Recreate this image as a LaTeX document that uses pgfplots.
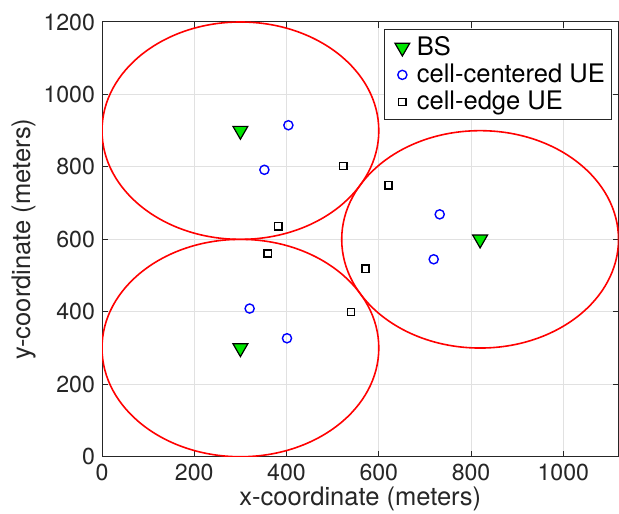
\documentclass[border={2.5pt -2pt 0pt 3.5pt}]{standalone}
\usepackage{pgfplots}
\pgfplotsset{compat=1.18}
\usepackage{fontspec}
\setmainfont{TeX Gyre Heros}
\definecolor{axgray}{RGB}{38,38,38}
\definecolor{gridgray}{RGB}{225,225,225}
\definecolor{bsgreen}{RGB}{0,230,0}
\begin{document}
\begin{tikzpicture}
\begin{axis}[
  scale only axis,
  width=259pt, height=218pt,
  xmin=0, xmax=1119.6, ymin=0, ymax=1200,
  xtick={0,200,...,1000}, ytick={0,200,...,1200},
  grid=major, major grid style={gridgray, line width=0.5pt},
  tick align=inside, major tick length=3pt,
  axis line style={axgray, line width=0.5pt},
  tick style={axgray, line width=0.5pt},
  ticklabel style={font=\fontsize{11.6}{13}\selectfont, text=axgray},
  /pgf/number format/assume math mode=true,
  /pgf/number format/1000 sep={},
  xlabel={x-coordinate (meters)}, ylabel={y-coordinate (meters)},
  label style={font=\fontsize{12.8}{14}\selectfont, text=axgray},
  xlabel style={yshift=3.5pt}, ylabel style={yshift=-3pt},
  legend style={at={(0.988,0.984)}, anchor=north east, draw=axgray, line width=0.5pt,
    font=\fontsize{12.8}{14}\selectfont, inner sep=1.5pt, row sep=-1.2pt,
    cells={anchor=west}},
  legend image code/.code={\path (0.3cm-7pt,0pt) (0.3cm+5pt,0pt);
    \draw[mark repeat=2,mark phase=2,#1] plot coordinates {(0cm,0cm) (0.3cm,0cm) (0.6cm,0cm)};},
  legend cell align=left,
  clip=true,
]
\draw[red, line width=0.8pt] (axis cs:300,900) ellipse [x radius=300, y radius=300];
\draw[red, line width=0.8pt] (axis cs:300,300) ellipse [x radius=300, y radius=300];
\draw[red, line width=0.8pt] (axis cs:819.6,600) ellipse [x radius=300, y radius=300];
\addplot[only marks, mark=triangle*, mark size=4.3pt, mark options={rotate=180, fill=bsgreen, draw=black, line width=0.6pt}]
  coordinates {(300,900) (300,300) (819.6,600)};
\addlegendentry{BS}
\addplot[only marks, mark=o, mark size=2.3pt, mark options={draw=blue, line width=0.7pt}]
  coordinates {(404,915) (352,792) (732,669) (719,545) (320,409) (401,327)};
\addlegendentry{cell-centered UE}
\addplot[only marks, mark=square, mark size=1.8pt, mark options={draw=black, line width=0.7pt}]
  coordinates {(523,802) (621,749) (382,636) (359,561) (571,519) (540,400)};
\addlegendentry{cell-edge UE}
\end{axis}
\end{tikzpicture}
\end{document}
